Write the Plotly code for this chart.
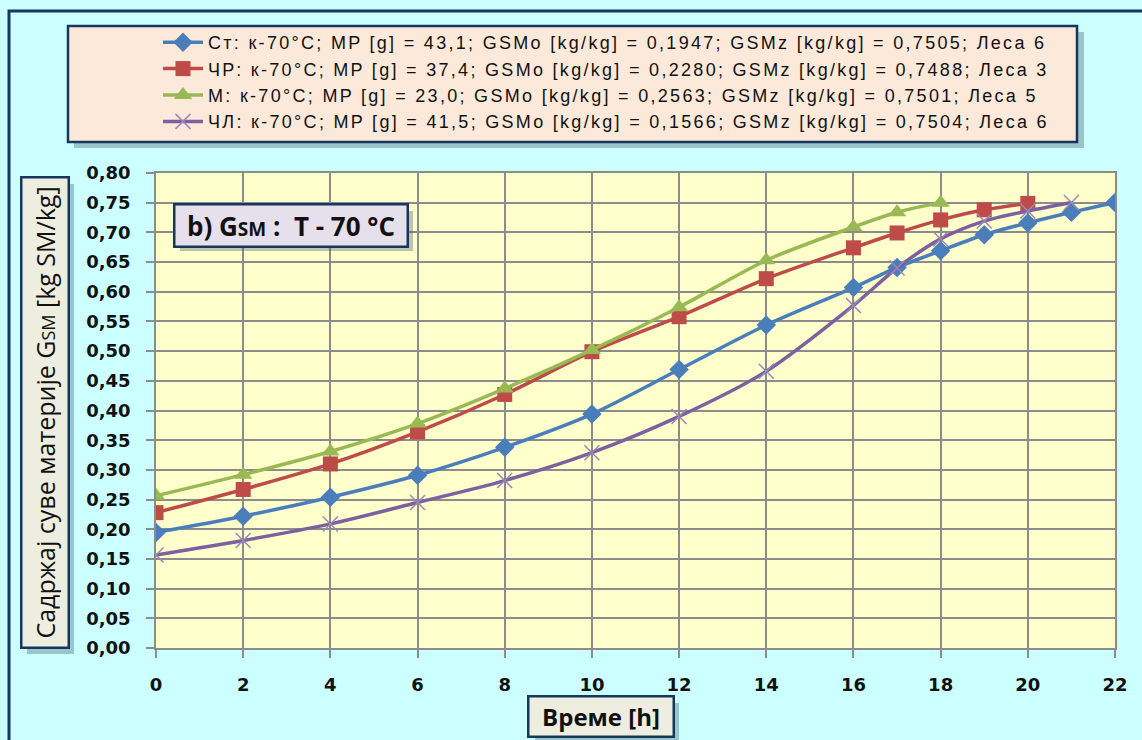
import plotly.graph_objects as go

# ---- data ----
st_x = [0, 2, 4, 6, 8, 10, 12, 14, 16, 17, 18, 19, 20, 21, 22]
st_y = [0.1947, 0.222, 0.254, 0.291, 0.338, 0.394, 0.469, 0.544, 0.607, 0.641, 0.669, 0.696, 0.716, 0.734, 0.7505]

chr_x = [0, 2, 4, 6, 8, 10, 12, 14, 16, 17, 18, 19, 20]
chr_y = [0.2280, 0.267, 0.310, 0.364, 0.427, 0.499, 0.558, 0.622, 0.674, 0.699, 0.721, 0.738, 0.7488]

m_x = [0, 2, 4, 6, 8, 10, 12, 14, 16, 17, 18]
m_y = [0.2563, 0.292, 0.331, 0.378, 0.437, 0.502, 0.574, 0.653, 0.709, 0.734, 0.7501]

chl_x = [0, 2, 4, 6, 8, 10, 12, 14, 16, 17, 18, 19, 20, 21]
chl_y = [0.1566, 0.181, 0.209, 0.245, 0.282, 0.329, 0.390, 0.466, 0.577, 0.640, 0.689, 0.719, 0.736, 0.7504]

names = [
    "Ст: к-70°С; MP [g] = 43,1; GSMo [kg/kg] = 0,1947; GSMz [kg/kg] = 0,7505; Леса 6",
    "ЧР: к-70°С; MP [g] = 37,4; GSMo [kg/kg] = 0,2280; GSMz [kg/kg] = 0,7488; Леса 3",
    "М: к-70°С; MP [g] = 23,0; GSMo [kg/kg] = 0,2563; GSMz [kg/kg] = 0,7501; Леса 5",
    "ЧЛ: к-70°С; MP [g] = 41,5; GSMo [kg/kg] = 0,1566; GSMz [kg/kg] = 0,7504; Леса 6",
]
x_ticks = [0, 2, 4, 6, 8, 10, 12, 14, 16, 18, 20, 22]
y_ticks = [0.00, 0.05, 0.10, 0.15, 0.20, 0.25, 0.30, 0.35, 0.40, 0.45, 0.50, 0.55,
           0.60, 0.65, 0.70, 0.75, 0.80]

W, H = 1142, 740
L, R, T, B = 156, 1115, 173, 648


def px(xp):
    return (xp - L) / (R - L)


def py(yp):
    return (B - yp) / (B - T)


fig = go.Figure()
series = [
    (st_x, st_y, "#4A7EBB", dict(symbol="diamond", size=15, color="#4A7EBB")),
    (chr_x, chr_y, "#BE4B48", dict(symbol="square", size=15, color="#BE4B48")),
    (m_x, m_y, "#98B954", dict(symbol="triangle-up", size=16, color="#98B954")),
    (chl_x, chl_y, "#7D60A0", dict(symbol="x-thin", size=15, color="#9B88B8",
                                   line=dict(width=1.5, color="#9B88B8"))),
]
for (xs, ys, col, mk), nm in zip(series, names):
    fig.add_trace(go.Scatter(
        x=xs, y=ys,
        name="<span style='letter-spacing:2.3px'>" + nm + "</span>",
        mode="lines+markers",
        line=dict(color=col, width=3.5, shape="spline", smoothing=0.8),
        marker=mk,
    ))

navy = "#17365D"
shade = "rgba(60,90,110,0.35)"
shapes = []
# outer figure border
shapes.append(dict(type="rect", xref="paper", yref="paper",
                   x0=px(9), x1=px(1160), y0=py(760), y1=py(11),
                   line=dict(color=navy, width=3), fillcolor="rgba(0,0,0,0)", layer="below"))
# legend box shadow + box
shapes.append(dict(type="rect", xref="paper", yref="paper",
                   x0=px(74), x1=px(1084), y0=py(148), y1=py(32),
                   line=dict(width=0), fillcolor=shade, layer="below"))
shapes.append(dict(type="rect", xref="paper", yref="paper",
                   x0=px(68), x1=px(1077), y0=py(142), y1=py(26),
                   line=dict(color=navy, width=2.5), fillcolor="#FDE9D9", layer="below"))
# annotation shadows
shapes.append(dict(type="rect", xref="paper", yref="paper",
                   x0=px(180), x1=px(413), y0=py(251), y1=py(211),
                   line=dict(width=0), fillcolor=shade, layer="above"))
shapes.append(dict(type="rect", xref="paper", yref="paper",
                   x0=px(27), x1=px(74), y0=py(654), y1=py(184),
                   line=dict(width=0), fillcolor=shade, layer="above"))
shapes.append(dict(type="rect", xref="paper", yref="paper",
                   x0=px(535), x1=px(679), y0=py(741), y1=py(703),
                   line=dict(width=0), fillcolor=shade, layer="above"))

annotations = [
    dict(xref="paper", yref="paper", x=px(291), y=py(225), xanchor="center", yanchor="middle",
         text="<b>b) G<span style='font-size:19px'>SM</span> :  T - 70 °C</b>",
         showarrow=False, font=dict(family="Open Sans", size=26, color="#111111"),
         bgcolor="#E6E0EC", bordercolor=navy, borderwidth=2.5, borderpad=2,
         width=227, height=36),
    dict(xref="paper", yref="paper", x=px(45), y=py(413), xanchor="center", yanchor="middle",
         text="Садржај суве материје G<span style='font-size:18px'>SM</span> [kg SM/kg]",
         textangle=-90, showarrow=False,
         font=dict(family="Open Sans", size=25, color="#111111"),
         bgcolor="#EDEEE0", bordercolor=navy, borderwidth=2.5, borderpad=2,
         width=464, height=41),
    dict(xref="paper", yref="paper", x=px(601), y=py(716), xanchor="center", yanchor="middle",
         text="<b>Време [h]</b>", showarrow=False,
         font=dict(family="Open Sans", size=24, color="#111111"),
         bgcolor="#EDEEE0", bordercolor=navy, borderwidth=2.5, borderpad=2,
         width=139, height=34),
]

fig.update_layout(
    width=W, height=H,
    margin=dict(l=L, r=W - R, t=T, b=H - B, pad=0),
    paper_bgcolor="#CCFFFF",
    plot_bgcolor="#FFFFCC",
    separators=", ",
    showlegend=True,
    legend=dict(x=px(158), y=py(24), xanchor="left", yanchor="top",
                bgcolor="rgba(0,0,0,0)", borderwidth=0,
                font=dict(family="Liberation Sans", size=18, color="#111111"),
                tracegroupgap=0, itemwidth=40),
    shapes=shapes,
    annotations=annotations,
)
fig.update_xaxes(
    range=[0, 22], tickvals=x_ticks, ticktext=[str(v) for v in x_ticks],
    showgrid=True, gridcolor="#8C8C8C", gridwidth=1.5,
    showline=True, linecolor="#8C8C8C", linewidth=1.5, mirror=True,
    ticks="outside", ticklen=8, tickcolor="#8C8C8C", tickwidth=1.5,
    ticklabelstandoff=12,
    tickfont=dict(family="DejaVu Sans", size=18, color="#111111", weight="bold"),
    zeroline=False,
)
fig.update_yaxes(
    range=[0, 0.80], tickvals=y_ticks, tickformat=".2f",
    showgrid=True, gridcolor="#8C8C8C", gridwidth=1.5,
    showline=True, linecolor="#8C8C8C", linewidth=1.5, mirror=True,
    ticks="outside", ticklen=8, tickcolor="#8C8C8C", tickwidth=1.5,
    ticklabelstandoff=12,
    tickfont=dict(family="DejaVu Sans", size=18, color="#111111", weight="bold"),
    zeroline=False,
)

fig.write_html("out.html")
